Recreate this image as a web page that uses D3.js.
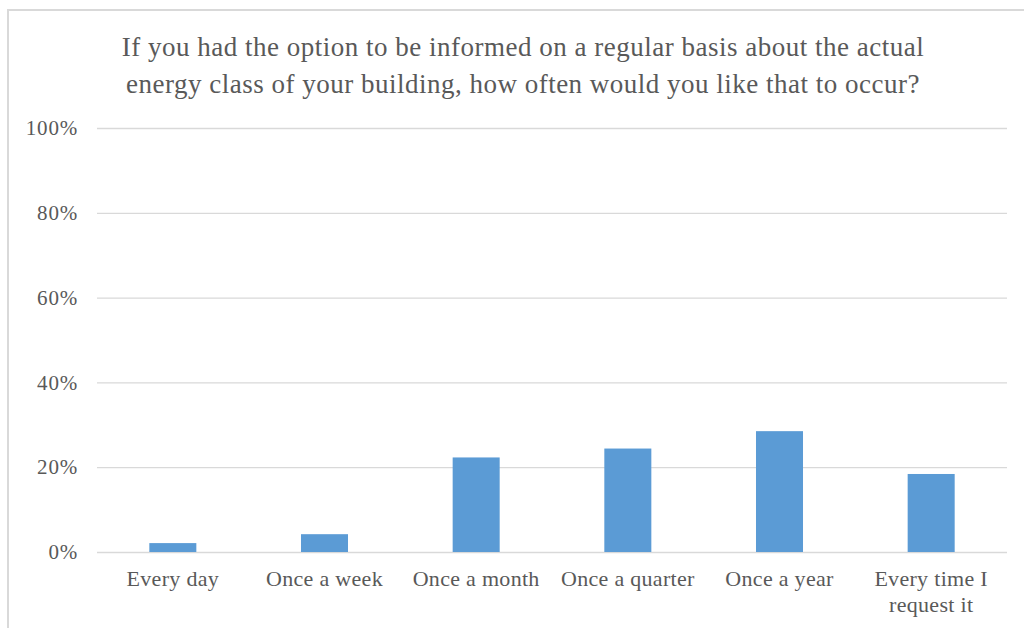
<!DOCTYPE html>
<html>
<head>
<meta charset="utf-8">
<script src="https://cdn.jsdelivr.net/npm/d3@7"></script>
<style>
  html, body { margin: 0; padding: 0; background: #fff; }
  svg { display: block; }
  text { font-family: "Liberation Serif", "Times New Roman", serif; fill: #595959; }
</style>
</head>
<body>
<svg id="chart" width="1024" height="628"></svg>
<script>
// Survey answers: preferred frequency of energy-class updates
const categories = ["Every day", "Once a week", "Once a month", "Once a quarter", "Once a year", "Every time I request it"];
const shares = [2.1, 4.2, 22.3, 24.4, 28.5, 18.4];
const yTicks = [0, 20, 40, 60, 80, 100];
const titleLines = [
  "If you had the option to be informed on a regular basis about the actual",
  "energy class of your building, how often would you like that to occur?"
];
// Category labels broken across lines where the text is wrapped
const categoryLines = {
  "Every time I request it": ["Every time I", "request it"]
};

const svg = d3.select("#chart");
const W = 1024, H = 628;
const margin = { left: 97, right: 17, top: 128, bottom: 76 };

// Chart frame (top and left edges)
svg.append("path")
  .attr("d", `M8,${H} L8,10 L${W},10`)
  .attr("fill", "none")
  .attr("stroke", "#d9d9d9")
  .attr("stroke-width", 2);

// Title
svg.append("g").selectAll("text")
  .data(titleLines)
  .join("text")
  .attr("x", 523)
  .attr("y", (d, i) => 56 + i * 37)
  .attr("text-anchor", "middle")
  .attr("font-size", 27)
  .attr("letter-spacing", 0.5)
  .text(d => d);

const x = d3.scaleBand()
  .domain(categories)
  .range([margin.left, W - margin.right])
  .paddingInner(0.69)
  .paddingOuter(0.345);

const y = d3.scaleLinear()
  .domain([0, 100])
  .range([H - margin.bottom, margin.top]);

// Gridlines and percent labels
const yAxis = svg.append("g")
  .attr("transform", `translate(${margin.left},0)`)
  .call(d3.axisLeft(y).tickValues(yTicks).tickSize(-(W - margin.right - margin.left)).tickPadding(19).tickFormat(d => d + "%"));
yAxis.select(".domain").remove();
yAxis.selectAll(".tick line").attr("stroke", "#d9d9d9").attr("stroke-width", 1.3);
yAxis.selectAll(".tick text")
  .attr("font-size", 21)
  .attr("letter-spacing", 0.8)
  .attr("font-family", "Liberation Serif, serif")
  .attr("fill", "#595959");

// Bars
svg.append("g").selectAll("rect")
  .data(categories.map((c, i) => ({ c, v: shares[i] })))
  .join("rect")
  .attr("x", d => x(d.c))
  .attr("width", x.bandwidth())
  .attr("y", d => y(d.v))
  .attr("height", d => y(0) - y(d.v))
  .attr("fill", "#5b9bd5");

// Category axis labels
const xAxis = svg.append("g")
  .attr("transform", `translate(0,${H - margin.bottom})`)
  .call(d3.axisBottom(x).tickSize(0).tickFormat(""));
xAxis.select(".domain").remove();
xAxis.selectAll(".tick").each(function(c) {
  const lines = categoryLines[c] || [c];
  d3.select(this).selectAll("text.lbl")
    .data(lines)
    .join("text")
    .attr("class", "lbl")
    .attr("y", (d, i) => 34 + i * 26)
    .attr("text-anchor", "middle")
    .attr("font-size", 22)
    .attr("letter-spacing", 0.3)
    .attr("font-family", "Liberation Serif, serif")
    .attr("fill", "#595959")
    .text(d => d);
});
</script>
</body>
</html>
